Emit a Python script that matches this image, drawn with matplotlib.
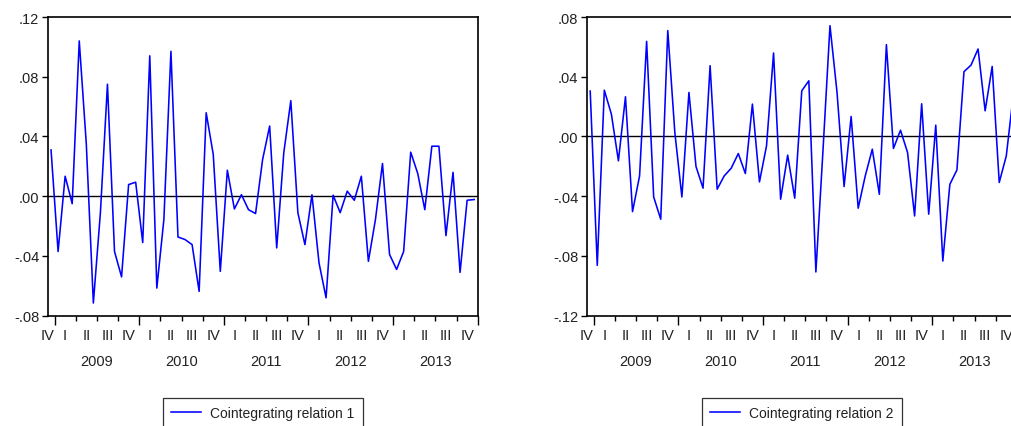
"""
Two cointegrating relations, EViews style line charts
"""
import matplotlib
matplotlib.use('Agg')
import matplotlib.pyplot as plt
from matplotlib.ticker import FixedLocator, FuncFormatter

plt.rcParams['font.family'] = ['Liberation Sans', 'DejaVu Sans']

# monthly observations, 2008M12 .. 2013M12
coint1 = [0.031, -0.037, 0.0134, -0.005, 0.104, 0.035, -0.0715, -0.011, 0.075, -0.037,
          -0.054, 0.0078, 0.0094, -0.031, 0.094, -0.0615, -0.0156, 0.097, -0.0273, -0.029,
          -0.0324, -0.0637, 0.0559, 0.028, -0.0503, 0.0174, -0.0085, 0.001, -0.009, -0.0116,
          0.0246, 0.047, -0.0346, 0.029, 0.064, -0.011, -0.0324, 0.001, -0.0447, -0.068,
          0.0007, -0.011, 0.0034, -0.0027, 0.0134, -0.0436, -0.0156, 0.0219, -0.039, -0.049,
          -0.037, 0.0295, 0.0152, -0.009, 0.0335, 0.0335, -0.0264, 0.016, -0.051, -0.0027,
          -0.0022]
coint2 = [0.0304, -0.0863, 0.031, 0.015, -0.0163, 0.0266, -0.0503, -0.0264, 0.0637, -0.0405,
          -0.0554, 0.0709, 0.0027, -0.0405, 0.0295, -0.0201, -0.0346, 0.0474, -0.0353, -0.0264,
          -0.0212, -0.0114, -0.0248, 0.0217, -0.0304, -0.0063, 0.0559, -0.042, -0.0125, -0.0413,
          0.0306, 0.0373, -0.0907, -0.01, 0.0742, 0.0295, -0.0335, 0.0134, -0.048, -0.0264,
          -0.0085, -0.0387, 0.0615, -0.008, 0.0042, -0.0107, -0.0532, 0.0219, -0.052, 0.0076,
          -0.0834, -0.032, -0.0224, 0.0434, 0.0478, 0.0586, 0.0172, 0.0469, -0.0308, -0.013,
          0.028]

series_names = ['Cointegrating relation 1', 'Cointegrating relation 2']
years = ['2009', '2010', '2011', '2012', '2013']
quarter_names = ['I', 'II', 'III', 'IV']
first_quarter = 'IV'
ylims = [(-0.08, 0.12), (-0.12, 0.08)]
yticks = [[-0.08, -0.04, 0.0, 0.04, 0.08, 0.12],
          [-0.12, -0.08, -0.04, 0.0, 0.04, 0.08]]

TEXT = '#222222'
FS = 10.5


def _eviews_label(v, pos=None):
    return f'{v:.2f}'.replace('0.', '.', 1)


def draw_panel(ax, values, name, ylim, ticks):
    n = len(values)
    xs = list(range(n))
    ax.axhline(0, color='black', linewidth=1.0, zorder=1)
    ax.plot(xs, values, color='#0000ff', linewidth=1.15, label=name, zorder=2)
    ax.set_xlim(-0.5, n - 0.5)
    ax.set_ylim(*ylim)

    for spine in ax.spines.values():
        spine.set_linewidth(1.2)
        spine.set_color('black')

    ax.yaxis.set_major_locator(FixedLocator(ticks))
    ax.yaxis.set_major_formatter(FuncFormatter(_eviews_label))
    ax.tick_params(axis='y', direction='out', length=4, width=1, pad=2,
                   labelsize=FS, labelcolor=TEXT)

    # quarter boundaries as minor ticks, year boundaries as major ticks
    year_bounds = [0.5 + 12 * k for k in range(len(years) + 1)]
    quarter_bounds = [0.5 + 3 * k for k in range(4 * len(years) + 1)]
    ax.xaxis.set_major_locator(FixedLocator(year_bounds))
    ax.xaxis.set_minor_locator(FixedLocator(quarter_bounds))
    ax.tick_params(axis='x', which='major', direction='out', length=6.5, width=1,
                   labelbottom=False)
    ax.tick_params(axis='x', which='minor', direction='out', length=3.5, width=1)

    trans = ax.get_xaxis_transform()
    ax.text(-0.5, -0.065, first_quarter, transform=trans, ha='center', va='center',
            fontsize=FS, color=TEXT)
    for k in range(4 * len(years)):
        ax.text(2 + 3 * k, -0.065, quarter_names[k % 4], transform=trans,
                ha='center', va='center', fontsize=FS, color=TEXT)
    for k, yr in enumerate(years):
        ax.text(6.5 + 12 * k, -0.151, yr, transform=trans, ha='center', va='center',
                fontsize=FS, color=TEXT)

    leg = ax.legend(loc='upper center', bbox_to_anchor=(0.5, -0.2755), frameon=True,
                    fancybox=False, edgecolor='black', fontsize=10, handlelength=2.15,
                    handletextpad=0.65, borderpad=0.6, borderaxespad=0)
    leg.get_frame().set_linewidth(0.9)
    for t in leg.get_texts():
        t.set_color(TEXT)


fig = plt.figure(figsize=(10.11, 4.27), dpi=100)
ax1 = fig.add_axes([0.047, 0.2583, 0.4255, 0.6995])
ax2 = fig.add_axes([0.5803, 0.2583, 0.4255, 0.6995])

draw_panel(ax1, coint1, series_names[0], ylims[0], yticks[0])
draw_panel(ax2, coint2, series_names[1], ylims[1], yticks[1])

fig.savefig('out.png', dpi=100)
plt.close(fig)
